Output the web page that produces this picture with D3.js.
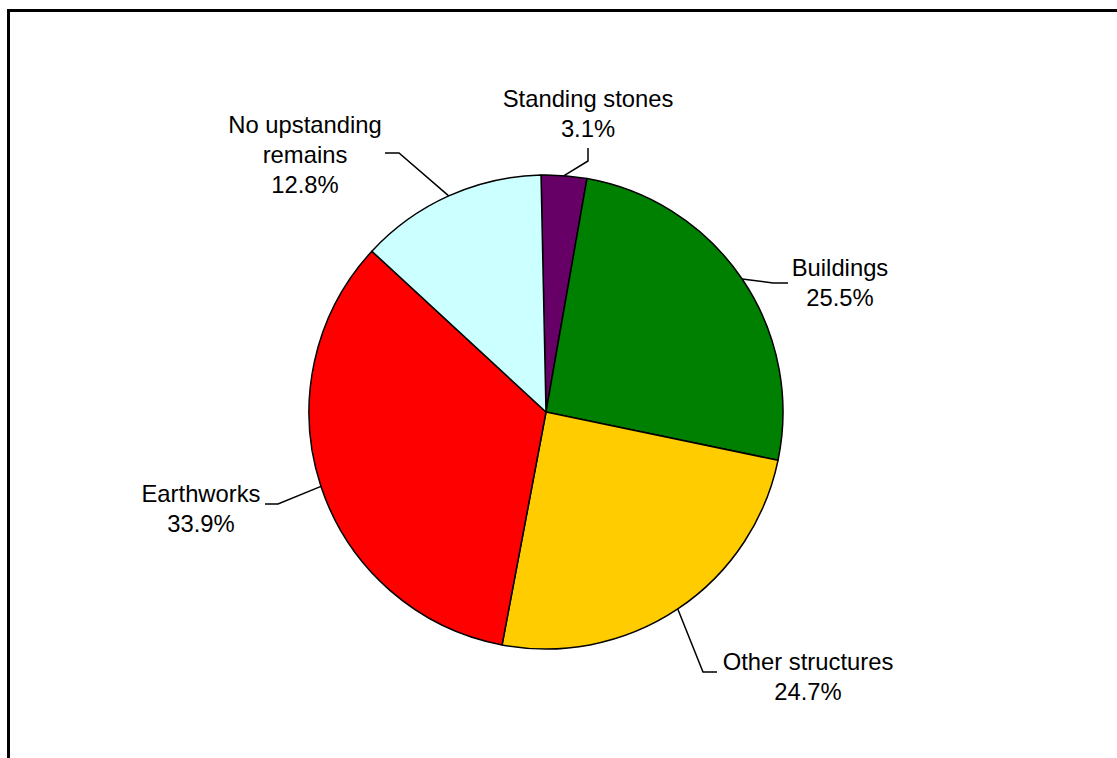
<!DOCTYPE html>
<html>
<head>
    <meta charset="utf-8">
    <script src="https://d3js.org/d3.v7.min.js"></script>
    <style>
        body { margin: 0; background: #ffffff; }
        .label { font-family: "Liberation Sans", Arial, sans-serif; font-size: 23.8px; fill: #000; text-anchor: middle; }
        .leader { fill: none; stroke: #000; stroke-width: 1.5; }
    </style>
</head>
<body>
<script type="text/javascript">

    // Chart data
    var categories = ["Standing stones", "Buildings", "Other structures", "Earthworks", "No upstanding remains"];
    var percents = [3.1, 25.5, 24.7, 33.9, 12.8];
    var colours = ["#660066", "#008000", "#ffcc00", "#ff0000", "#ccffff"];
    var labelLines = [
        ["Standing stones", "3.1%"],
        ["Buildings", "25.5%"],
        ["Other structures", "24.7%"],
        ["Earthworks", "33.9%"],
        ["No upstanding", "remains", "12.8%"]
    ];

    // Label placement relative to pie centre: text centre / first baseline, elbow and end of leader
    var labelLayout = [
        { tx: 42,  ty: -305, ex: 42,  ey: -251, kx: 42,  ky: -264 },
        { tx: 294, ty: -136, ex: 227, ey: -129, kx: 242, ky: -129 },
        { tx: 262, ty: 258,  ex: 157, ey: 260,  kx: 171, ky: 260 },
        { tx: -345, ty: 90,  ex: -268, ey: 92,  kx: -281, ky: 92 },
        { tx: -241, ty: -279, ex: -147, ey: -259, kx: -161, ky: -259 }
    ];

    var width = 1117, height = 758;
    var cx = 546, cy = 412, radius = 237;
    var startOffset = -1.2 * Math.PI / 180;
    var lineHeight = 30;

    var svg = d3.select("body").append("svg")
                .attr("width", width)
                .attr("height", height);

    // Frame (open at right and bottom, like the original)
    svg.append("rect")
       .attr("x", 8.5).attr("y", 10.5)
       .attr("width", 1200).attr("height", 900)
       .attr("fill", "none")
       .attr("stroke", "#000")
       .attr("stroke-width", 3);

    var pie = d3.pie()
                .sort(null)
                .value(function(d) { return d; })
                .startAngle(startOffset)
                .endAngle(startOffset + 2 * Math.PI);

    var arcs = pie(percents);
    var arc = d3.arc().innerRadius(0).outerRadius(radius);

    var g = svg.append("g").attr("transform", "translate(" + cx + "," + cy + ")");

    g.selectAll(".slice")
     .data(arcs)
     .enter().append("path")
     .attr("class", "slice")
     .attr("d", arc)
     .attr("fill", function(d, i) { return colours[i]; })
     .attr("stroke", "#000")
     .attr("stroke-width", 1.5)
     .attr("stroke-linejoin", "round");

    // Leader lines from the middle of each arc
    g.selectAll(".leader")
     .data(arcs)
     .enter().append("polyline")
     .attr("class", "leader")
     .attr("points", function(d, i) {
         var a = (d.startAngle + d.endAngle) / 2;
         var L = labelLayout[i];
         var sx = Math.sin(a) * radius, sy = -Math.cos(a) * radius;
         return [[sx, sy], [L.ex, L.ey], [L.kx, L.ky]].join(" ");
     });

    // Labels
    var labels = g.selectAll(".label")
                  .data(arcs)
                  .enter().append("text")
                  .attr("class", "label")
                  .attr("x", function(d, i) { return labelLayout[i].tx; })
                  .attr("y", function(d, i) { return labelLayout[i].ty; });

    labels.each(function(d, i) {
        var t = d3.select(this);
        labelLines[i].forEach(function(line, j) {
            t.append("tspan")
             .attr("x", labelLayout[i].tx)
             .attr("dy", j === 0 ? 0 : lineHeight)
             .text(line);
        });
    });

</script>
</body>
</html>
